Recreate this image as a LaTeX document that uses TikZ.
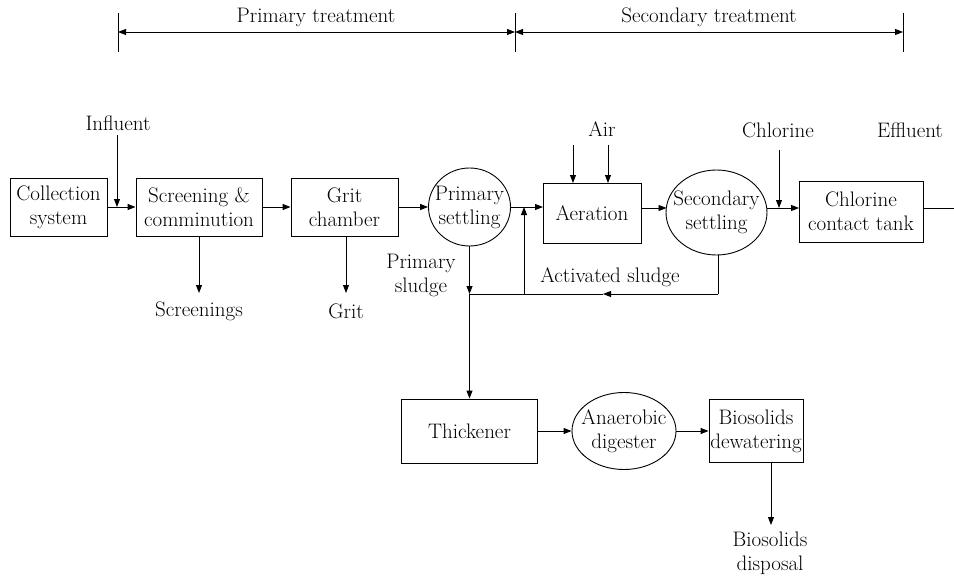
\documentclass[tikz,border=0pt]{standalone}
\usetikzlibrary{arrows.meta,shapes.geometric}
\begin{document}
\begin{tikzpicture}[x=1pt,y=-1pt,
  every node/.style={font=\fontsize{21}{24}\selectfont, inner sep=0pt, align=center},
  box/.style={draw, line width=0.9pt},
  oval/.style={draw, ellipse, line width=0.9pt, inner sep=-20pt},
  ln/.style={line width=0.9pt},
  arr/.style={line width=0.9pt, -{Triangle[length=8pt,width=6pt]}},
  dim/.style={line width=0.9pt, {Triangle[length=8pt,width=6pt]}-{Triangle[length=8pt,width=6pt]}}]
\useasboundingbox (0,0) rectangle (954,578);

% dimension lines
\coordinate (d1t) at (118,13); \coordinate (d1b) at (118,52);
\coordinate (d2t) at (515,13); \coordinate (d2b) at (515,52);
\coordinate (d3t) at (903,13); \coordinate (d3b) at (903,52);
\draw[ln] (d1t) -- (d1b);
\draw[ln] (d2t) -- (d2b);
\draw[ln] (d3t) -- (d3b);
\coordinate (a1) at (118,32); \coordinate (a2) at (515,32); \coordinate (a3) at (903,32);
\draw[dim] (a1) -- (a2);
\draw[dim] (a2) -- (a3);
\node (pt) at (316,17) {Primary treatment};
\node (st) at (709,17) {Secondary treatment};

% boxes
\node[box, minimum width=97pt, minimum height=58pt] (coll) at (58.5,207) {Collection\\system};
\node[box, minimum width=126pt, minimum height=58pt] (scr) at (199,207) {Screening \&\\comminution};
\node[box, minimum width=107pt, minimum height=58pt] (grit) at (344.5,207) {Grit\\chamber};
\node[oval, minimum width=82pt, minimum height=78pt] (prim) at (469.5,207) {Primary\\settling};
\node[box, minimum width=98pt, minimum height=60pt] (aer) at (592,213) {Aeration};
\node[oval, minimum width=101pt, minimum height=85pt] (sec) at (716.5,212.5) {Secondary\\settling};
\node[box, minimum width=124pt, minimum height=61pt] (chl) at (861,211.5) {Chlorine\\contact tank};
\node[box, minimum width=136pt, minimum height=64pt] (thk) at (469.5,431) {Thickener};
\node[oval, minimum width=104pt, minimum height=77pt] (ana) at (624,431) {Anaerobic\\digester};
\node[box, minimum width=94pt, minimum height=63pt] (bio) at (756,431) {Biosolids\\dewatering};

% labels
\node (infl) at (118,123) {Influent};
\node (air) at (602,129) {Air};
\node (chlo) at (778,130) {Chlorine};
\node (effl) at (910,130) {Effluent};
\node (scrn) at (199,311) {Screenings};
\node (gritl) at (346,311) {Grit};
\node (psl) at (421,275) {Primary\\sludge};
\node (asl) at (610,277) {Activated sludge};
\node (bdis) at (770,553) {Biosolids\\disposal};

% main flow
\coordinate (inf0) at (117,135); \coordinate (inf1) at (117,207);
\draw[arr] (inf0) -- (inf1);
\draw[arr] (coll.east) -- (scr.west);
\draw[arr] (scr.east) -- (grit.west);
\draw[arr] (grit.east) -- (prim.west);
\coordinate (p1) at (543,207);
\draw[arr] (prim.east) -- (p1);
\coordinate (air1t) at (573,145); \coordinate (air1b) at (573,183);
\coordinate (air2t) at (608,145); \coordinate (air2b) at (608,183);
\draw[arr] (air1t) -- (air1b);
\draw[arr] (air2t) -- (air2b);
\coordinate (ae1) at (641,208); \coordinate (se1) at (666.5,208);
\draw[arr] (ae1) -- (se1);
\coordinate (se2) at (766.5,208); \coordinate (ch1) at (799,208);
\draw[arr] (se2) -- (ch1);
\coordinate (cl0) at (779,150); \coordinate (cl1) at (779,208);
\draw[arr] (cl0) -- (cl1);
\coordinate (ef0) at (923,208); \coordinate (ef1) at (954,208);
\draw[ln] (ef0) -- (ef1);

% side streams
\coordinate (s1) at (199,293);
\draw[arr] (scr.south) -- (s1);
\coordinate (g0) at (346,236); \coordinate (g1) at (346,293);
\draw[arr] (g0) -- (g1);
\coordinate (j1) at (469.5,294);
\draw[arr] (prim.south) -- (j1);
\draw[arr] (j1) -- (thk.north);
\coordinate (sb) at (718,294); \coordinate (mid) at (603,294);
\coordinate (sbt) at (718,255);
\draw[ln] (sbt) -- (sb);
\draw[arr] (sb) -- (mid);
\draw[ln] (mid) -- (j1);
\coordinate (r0) at (524,294); \coordinate (r1) at (524,207);
\draw[arr] (r0) -- (r1);

% sludge train
\draw[arr] (thk.east) -- (ana.west);
\draw[arr] (ana.east) -- (bio.west);
\coordinate (b0) at (771,463); \coordinate (b1) at (771,525);
\draw[arr] (b0) -- (b1);
\end{tikzpicture}
\end{document}
